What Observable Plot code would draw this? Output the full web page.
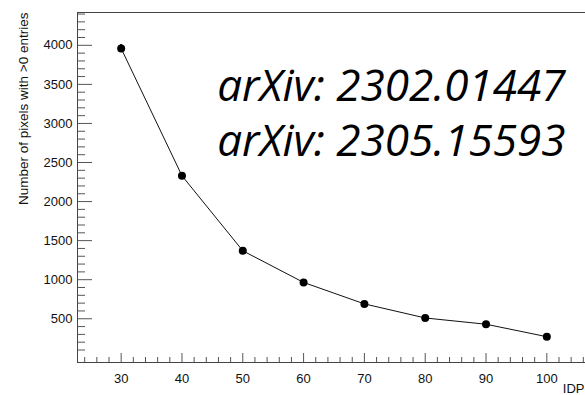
<!DOCTYPE html>
<html>
<head>
<meta charset="utf-8">
<script src="https://cdn.jsdelivr.net/npm/d3@7"></script>
<script src="https://cdn.jsdelivr.net/npm/@observablehq/plot@0.6"></script>
<style>
  html, body { margin: 0; padding: 0; background: #fff; overflow: hidden; }
  #chart svg { display: block; }
</style>
</head>
<body>
<div id="chart"></div>
<script>
// ---- data ----
const ids = [30, 40, 50, 60, 70, 80, 90, 100];
const counts = [3960, 2330, 1370, 965, 690, 510, 430, 270];
const errors = [50, 40, 35, 28, 22, 20, 18, 15];
const xMajorTicks = [30, 40, 50, 60, 70, 80, 90, 100];
const yMajorTicks = [500, 1000, 1500, 2000, 2500, 3000, 3500, 4000];
const annotations = ["arXiv: 2302.01447", "arXiv: 2305.15593"];
const annotationX = [45.8, 45.8];
const annotationY = [3290, 2585];
const yTitle = "Number of pixels with >0 entries";
const xTitle = "IDP";

// ---- layout ----
const W = 585, H = 395, mL = 77, mR = 0, mT = 12, mB = 33;
const pxX = 6.081;
const X0 = 22.82, X1 = X0 + (W - mL - mR) / pxX, Y0 = -60, Y1 = 4420;
const pxY = (H - mT - mB) / (Y1 - Y0);

const points = ids.map((x, i) => ({x, y: counts[i], e: errors[i]}));
const xMinor = d3.range(24, 107, 2).filter(v => v % 10 !== 0 && v < X1);
const yMinor = d3.range(0, 4401, 100).filter(v => v % 500 !== 0);
const notes = annotations.map((t, i) => ({t, x: annotationX[i], y: annotationY[i]}));

const tickColor = "#555";
const xMajLen = 9 / pxY, xMinLen = 5 / pxY;
const yMajLen = 15 / pxX, yMinLen = 8 / pxX;

const chart = Plot.plot({
  width: W, height: H,
  marginLeft: mL, marginRight: mR, marginTop: mT, marginBottom: mB,
  x: {domain: [X0, X1], axis: null},
  y: {domain: [Y0, Y1], axis: null},
  style: {fontFamily: "'Liberation Sans', Arial, sans-serif", background: "white"},
  marks: [
    // ticks (inward, ROOT style)
    Plot.ruleX(xMajorTicks, {x: d => d, y1: Y0, y2: Y0 + xMajLen, stroke: tickColor, strokeWidth: 1}),
    Plot.ruleX(xMinor, {x: d => d, y1: Y0, y2: Y0 + xMinLen, stroke: tickColor, strokeWidth: 1}),
    Plot.ruleY(yMajorTicks, {y: d => d, x1: X0, x2: X0 + yMajLen, stroke: tickColor, strokeWidth: 1}),
    Plot.ruleY(yMinor, {y: d => d, x1: X0, x2: X0 + yMinLen, stroke: tickColor, strokeWidth: 1}),
    // frame: top, bottom, left (right side lies beyond the picture)
    Plot.ruleY([Y0, Y1], {stroke: "#444", strokeWidth: 1}),
    Plot.ruleX([X0], {stroke: "#444", strokeWidth: 1}),
    // tick labels
    Plot.text(xMajorTicks, {x: d => d, y: Y0, text: d => String(d), dy: 16, fontSize: 13, fill: "#111"}),
    Plot.text(yMajorTicks, {x: X0, y: d => d, text: d => String(d), dx: -5, textAnchor: "end", fontSize: 13, fill: "#111"}),
    // titles
    Plot.text([yTitle], {frameAnchor: "top-left", text: d => d, rotate: -90, textAnchor: "end", lineAnchor: "bottom", dx: -50, fontSize: 13.5, fill: "#111"}),
    Plot.text([xTitle], {frameAnchor: "bottom-right", text: d => d, textAnchor: "end", lineAnchor: "bottom", dx: -1, dy: 30, fontSize: 13, fill: "#111"}),
    // data
    Plot.line(points, {x: "x", y: "y", stroke: "#111", strokeWidth: 1}),
    Plot.ruleX(points, {x: "x", y1: d => d.y - d.e, y2: d => d.y + d.e, stroke: "#000", strokeWidth: 2}),
    Plot.dot(points, {x: "x", y: "y", r: 4, fill: "#000", stroke: "none"}),
    // annotations
    Plot.text(notes, {x: "x", y: "y", text: "t", textAnchor: "start", lineAnchor: "bottom", fontSize: 44, fontStyle: "italic", fontFamily: "'Open Sans', sans-serif", fill: "#000"})
  ]
});
document.getElementById("chart").appendChild(chart);
</script>
</body>
</html>
